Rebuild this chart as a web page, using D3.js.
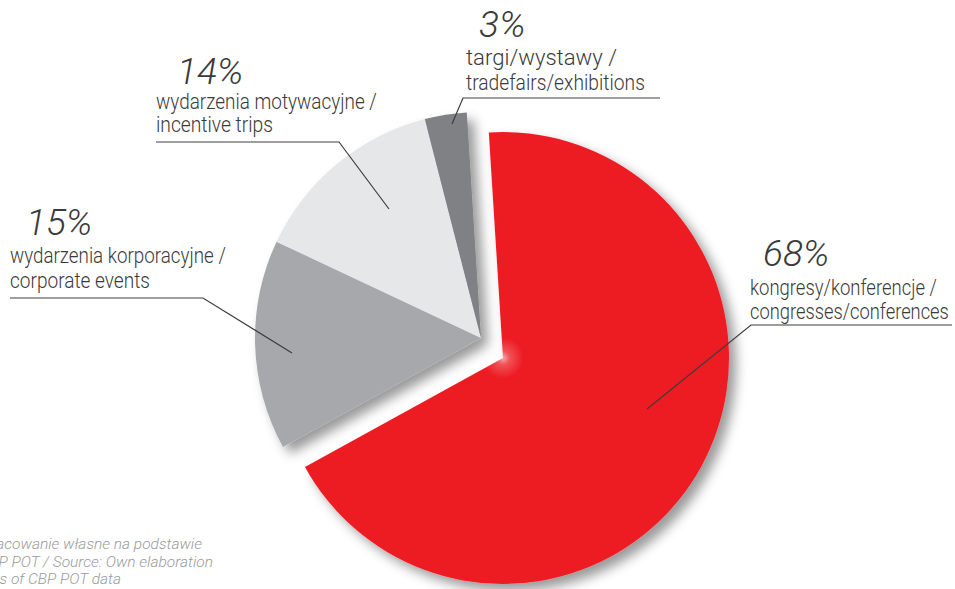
<!DOCTYPE html>
<html>
<head>
<meta charset="utf-8">
<script src="https://cdn.jsdelivr.net/npm/d3@7"></script>
<style>
  html, body { margin: 0; padding: 0; background: #fff; }
  svg { display: block; }
  text { font-family: Roboto, "Liberation Sans", Arial, sans-serif; }
</style>
</head>
<body>
<svg id="chart" width="955" height="589"></svg>
<script>
// Structure of MICE events by type (share, %)
const categoriesPl = ["kongresy/konferencje /", "wydarzenia korporacyjne /", "wydarzenia motywacyjne /", "targi/wystawy /"];
const categoriesEn = ["congresses/conferences", "corporate events", "incentive trips", "tradefairs/exhibitions"];
const shares = [68, 15, 14, 3];
const sliceColors = ["#ed1c24", "#a7a8ab", "#e6e7e8", "#808184"];
const sourceLines = [
  "Źródło: Opracowanie własne na podstawie",
  "danych CBP POT / Source: Own elaboration",
  "on the basis of CBP POT data"
];

const svg = d3.select("#chart");
const R = 226;
const center = [481, 338];
const explode = [22, 20];          // the red slice is pulled out of the pie
const startAngle = -3.6 * Math.PI / 180;

const defs = svg.append("defs");
const shadow = defs.append("filter").attr("id", "shadow")
  .attr("x", "-20%").attr("y", "-20%").attr("width", "150%").attr("height", "150%");
shadow.append("feDropShadow")
  .attr("dx", 7).attr("dy", 7).attr("stdDeviation", 6)
  .attr("flood-color", "#000").attr("flood-opacity", 0.4);

const glow = defs.append("radialGradient").attr("id", "redGlow")
  .attr("gradientUnits", "userSpaceOnUse")
  .attr("cx", 0).attr("cy", 0).attr("r", R);
[[0, "#f6a7aa"], [0.03, "#f15157"], [0.09, "#ed1c24"], [1, "#ed1c24"]].forEach(([o, c]) =>
  glow.append("stop").attr("offset", o).attr("stop-color", c));

const color = d3.scaleOrdinal().domain(d3.range(shares.length)).range(sliceColors);

const pie = d3.pie().sort(null).value(d => d)
  .startAngle(startAngle).endAngle(startAngle + 2 * Math.PI);
const arcs = pie(shares);
const arc = d3.arc().innerRadius(0).outerRadius(R);

// grey slices
const greyG = svg.append("g")
  .attr("transform", `translate(${center[0]},${center[1]})`)
  .attr("filter", "url(#shadow)");
greyG.selectAll("path").data(arcs.slice(1)).join("path")
  .attr("d", arc)
  .attr("fill", d => color(d.index));

// exploded red slice
const redG = svg.append("g")
  .attr("transform", `translate(${center[0] + explode[0]},${center[1] + explode[1]})`)
  .attr("filter", "url(#shadow)");
redG.append("path").datum(arcs[0])
  .attr("d", arc)
  .attr("fill", "url(#redGlow)");

// label layout: number, two text lines, leader polyline
const layout = [
  { num: [763, 266], x: 750, y1: 295, y2: 319, w1: 187, w2: 199, leader: [[647, 409], [751, 325], [952, 325]] },
  { num: [26, 235],  x: 10,  y1: 263, y2: 288, w1: 216, w2: 140, leader: [[292, 353], [203, 298], [10, 298]] },
  { num: [177, 84],  x: 156, y1: 109, y2: 132, w1: 221, w2: 117, leader: [[389, 209], [339, 142], [156, 142]] },
  { num: [479, 37],  x: 466, y1: 65,  y2: 90,  w1: 151, w2: 179, leader: [[452, 124], [463, 98], [660, 98]] }
];

// condensed label line: scale horizontally to the wanted width
function condensedLine(parent, str, x, y, width) {
  const t = parent.append("text")
    .attr("x", 0).attr("y", 0)
    .attr("font-size", 22).attr("font-weight", 300).attr("fill", "#3a3a3a")
    .text(str);
  const natural = t.node().getComputedTextLength() || width;
  t.attr("transform", `translate(${x},${y}) scale(${width / natural},1)`);
  return t;
}

const labels = svg.append("g");
layout.forEach((L, i) => {
  labels.append("path")
    .attr("d", d3.line()(L.leader))
    .attr("fill", "none").attr("stroke", "#3d3d3d").attr("stroke-width", 1.2);
  labels.append("text")
    .attr("x", L.num[0]).attr("y", L.num[1])
    .attr("font-size", 37).attr("font-weight", 300).attr("font-style", "italic")
    .attr("fill", "#3a3a3a")
    .text(shares[i] + "%");
  condensedLine(labels, categoriesPl[i], L.x, L.y1, L.w1);
  condensedLine(labels, categoriesEn[i], L.x, L.y2, L.w2);
});

// source note, anchored at its right ends
const srcEnds = [[202, 549], [213, 567], [121, 584]];
svg.append("g").selectAll("text").data(sourceLines).join("text")
  .attr("x", (d, i) => srcEnds[i][0]).attr("y", (d, i) => srcEnds[i][1])
  .attr("text-anchor", "end")
  .attr("font-size", 15.5).attr("font-style", "italic").attr("font-weight", 300)
  .attr("fill", "#9a9a9a")
  .text(d => d);
</script>
</body>
</html>
